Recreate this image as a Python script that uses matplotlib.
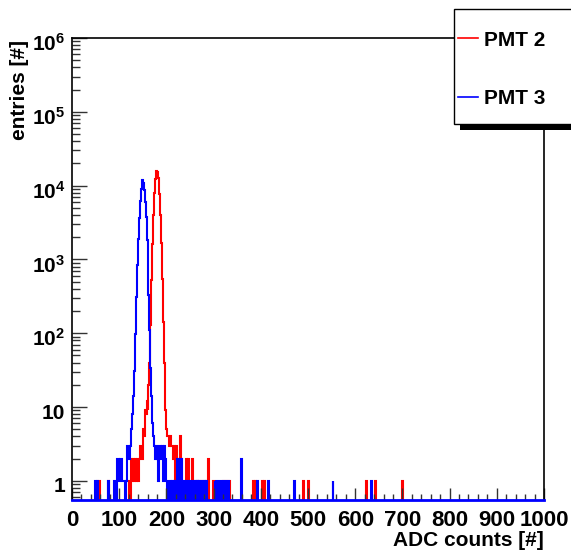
import numpy as np
import matplotlib
matplotlib.use("Agg")
import matplotlib.pyplot as plt
import matplotlib.transforms as mtransforms
from matplotlib.patches import Rectangle
from matplotlib.lines import Line2D
from matplotlib.ticker import FixedLocator, LogLocator, NullFormatter

plt.rcParams["font.family"] = ["Liberation Sans", "DejaVu Sans"]
plt.rcParams["font.weight"] = "bold"
plt.rcParams["mathtext.fontset"] = "custom"
plt.rcParams["mathtext.rm"] = "Liberation Sans:bold"
plt.rcParams["mathtext.bf"] = "Liberation Sans:bold"
plt.rcParams["mathtext.it"] = "Liberation Sans:bold"

# histogram data: bin centres (2 ADC-count bins) and entries
pmt2_x = [57, 59, 77, 121, 125, 127, 129, 131, 133, 135, 137, 139, 141, 143, 145,
          147, 149, 151, 153, 155, 157, 159, 161, 163, 165, 167, 169, 171, 173, 175,
          177, 179, 181, 183, 185, 187, 189, 191, 193, 195, 197, 199, 201, 203, 205,
          207, 209, 211, 213, 215, 217, 219, 221, 223, 225, 227, 229, 231, 233, 243,
          247, 255, 259, 265, 271, 277, 283, 289, 299, 321, 327, 333, 385, 389, 403,
          407, 491, 501, 623, 643, 701]
pmt2_n = [1, 1, 1, 1, 1, 2, 1, 2, 1, 2, 1, 2, 1, 2, 3,
          3, 2, 5, 4, 9, 8, 12, 9, 20, 40, 130, 520, 1600, 3950, 7900,
          12300, 15800, 15300, 12500, 7800, 4000, 1650, 540, 140, 40, 16, 9, 5, 4, 4,
          3, 4, 3, 3, 2, 3, 1, 3, 2, 1, 2, 4, 2, 1, 2,
          2, 2, 1, 1, 1, 1, 1, 2, 1, 1, 1, 1, 1, 1, 1,
          1, 1, 1, 1, 1, 1]

pmt3_x = [49, 55, 77, 91, 93, 97, 99, 101, 103, 105, 107, 109, 111, 115, 117,
          119, 121, 123, 125, 127, 129, 131, 133, 135, 137, 139, 141, 143, 145, 147,
          149, 151, 153, 155, 157, 159, 161, 163, 165, 167, 169, 171, 173, 175, 177,
          179, 181, 183, 185, 187, 189, 191, 193, 195, 197, 199, 201, 207, 209, 213,
          217, 223, 225, 229, 231, 239, 243, 247, 251, 255, 261, 265, 269, 275, 281,
          285, 303, 307, 313, 319, 325, 331, 359, 393, 417, 471, 553, 635]
pmt3_n = [1, 1, 1, 1, 1, 2, 2, 1, 2, 2, 1, 1, 1, 1, 3,
          3, 2, 3, 3, 5, 8, 14, 31, 98, 310, 830, 1870, 3650, 6200, 9100,
          12100, 11000, 8800, 6000, 3700, 1850, 860, 330, 110, 34, 14, 6, 4, 3, 2,
          3, 2, 1, 3, 3, 2, 3, 1, 3, 1, 2, 1, 1, 1, 1,
          1, 2, 2, 1, 2, 1, 1, 1, 1, 1, 1, 1, 1, 1, 1,
          1, 1, 1, 1, 1, 1, 1, 2, 1, 1, 1, 1, 1]

x_ticks = [0, 100, 200, 300, 400, 500, 600, 700, 800, 900, 1000]
y_ticks = [1, 10, 1e2, 1e3, 1e4, 1e5, 1e6]
y_labels = ["1", "10", "$10^{2}$", "$10^{3}$", "$10^{4}$", "$10^{5}$", "$10^{6}$"]

edges = np.arange(0, 1002, 2)


def fill(xs, ns):
    h = np.zeros(len(edges) - 1)
    for c, n in zip(xs, ns):
        h[(c - 1) // 2] = n
    return h


h2 = fill(pmt2_x, pmt2_n)
h3 = fill(pmt3_x, pmt3_n)

fig = plt.figure(figsize=(5.71, 5.50), dpi=100)
ax = fig.add_axes([72 / 571, 50 / 550, 472 / 571, 462 / 550])

ax.stairs(h2, edges, color="red", lw=1.5)
ax.stairs(h3, edges, color="blue", lw=1.5)

ax.set_yscale("log", nonpositive="clip")
ax.set_xlim(0, 1000)
ax.set_ylim(0.55, 1e6)

ax.xaxis.set_major_locator(FixedLocator(x_ticks))
ax.xaxis.set_minor_locator(FixedLocator(np.arange(0, 1001, 20)))
ax.set_xticklabels([str(t) for t in x_ticks])
ax.yaxis.set_major_locator(FixedLocator(y_ticks))
ax.yaxis.set_minor_locator(LogLocator(base=10, subs=np.arange(2, 10), numticks=20))
ax.yaxis.set_minor_formatter(NullFormatter())
ax.set_yticklabels(y_labels)

ax.tick_params(axis="both", which="both", direction="in", top=False, right=False,
               width=1, color="#333333")
ax.tick_params(axis="x", which="major", length=9, pad=7, labelsize=16)
ax.tick_params(axis="x", which="minor", length=4.5)
ax.tick_params(axis="y", which="major", length=11, pad=5, labelsize=15)
ax.tick_params(axis="y", which="minor", length=6)

# ROOT places the y labels slightly below their ticks
shift = mtransforms.ScaledTranslation(0, -4 / 100, fig.dpi_scale_trans)
for lab in ax.get_yticklabels():
    lab.set_transform(lab.get_transform() + shift)

for s in ["left", "top", "right"]:
    ax.spines[s].set_color("black")
    ax.spines[s].set_linewidth(1.2)
ax.spines["bottom"].set_color("blue")
ax.spines["bottom"].set_linewidth(2)

fig.text(544 / 571, 1 - 540 / 550, "ADC counts [#]", ha="right", va="center",
         fontsize=15, fontweight="bold")
fig.text(20 / 571, 1 - 40 / 550, "entries [#]", ha="center", va="top",
         rotation=90, fontsize=15, fontweight="bold")

# legend box with ROOT-style shadow
fig.add_artist(Rectangle((460 / 571, 1 - 130 / 550), 0.3, 115 / 550,
                         transform=fig.transFigure, facecolor="black",
                         edgecolor="none", zorder=5))
fig.add_artist(Rectangle((454 / 571, 1 - 124 / 550), 0.3, 115 / 550,
                         transform=fig.transFigure, facecolor="white",
                         edgecolor="black", lw=1, zorder=6))
fig.add_artist(Line2D([458 / 571, 478 / 571], [1 - 38 / 550] * 2,
                      transform=fig.transFigure, color="red", lw=1.2, zorder=7))
fig.add_artist(Line2D([458 / 571, 478 / 571], [1 - 97 / 550] * 2,
                      transform=fig.transFigure, color="blue", lw=1.2, zorder=7))
fig.text(484 / 571, 1 - 40 / 550, "PMT 2", ha="left", va="center", fontsize=15,
         fontweight="bold", zorder=8)
fig.text(484 / 571, 1 - 98 / 550, "PMT 3", ha="left", va="center", fontsize=15,
         fontweight="bold", zorder=8)

fig.savefig("out.png", dpi=100)
